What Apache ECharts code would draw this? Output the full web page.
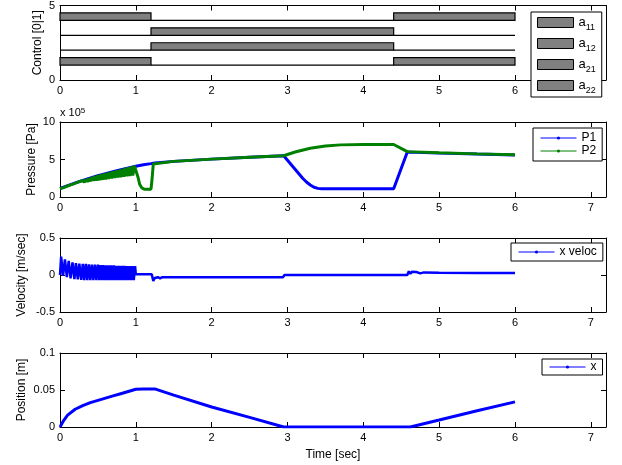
<!DOCTYPE html>
<html><head><meta charset="utf-8">
<script src="https://cdn.jsdelivr.net/npm/echarts@6/dist/echarts.min.js"></script>
<style>html,body{margin:0;padding:0;background:#fff}#c{width:622px;height:465px}</style>
</head><body><div id="c"></div><script>
// ---------- data ----------
const xTickValues = [0, 1, 2, 3, 4, 5, 6, 7];
const switchTimes = [0, 1.2, 4.4, 6];
const a11 = [1, 0, 1];
const a12 = [0, 1, 0];
const a21 = [0, 1, 0];
const a22 = [1, 0, 1];
const controlNames = ['a11', 'a12', 'a21', 'a22'];
const controlSignals = [a11, a12, a21, a22];
const controlBases = [4, 3, 2, 1];

// pressure in units of 1e5 Pa
const p1 = [[0,1.15],[0.25,2.05],[0.5,2.85],[0.75,3.5],[1.0,4.1],[1.1,4.3],[1.2,4.45],[1.25,4.55],[1.5,4.75],[2.0,5.05],[2.5,5.3],[2.95,5.5],[3.0,4.9],[3.05,4.3],[3.1,3.7],[3.15,3.1],[3.2,2.5],[3.25,2.0],[3.3,1.6],[3.35,1.3],[3.4,1.15],[3.45,1.1],[4.4,1.1],[4.58,6.0],[4.7,5.95],[5.0,5.85],[5.5,5.72],[6.0,5.6]];
const p2 = [[0,1.1],[0.05,1.25],[0.1,1.47],[0.12,1.42],[0.14,1.61],[0.16,1.52],[0.18,1.75],[0.2,1.62],[0.22,1.91],[0.24,1.74],[0.26,2.06],[0.28,1.85],[0.3,2.21],[0.32,1.94],[0.34,2.36],[0.36,2.02],[0.38,2.5],[0.4,2.09],[0.42,2.65],[0.44,2.16],[0.46,2.78],[0.48,2.19],[0.5,2.9],[0.52,2.24],[0.54,3.01],[0.56,2.3],[0.58,3.11],[0.6,2.36],[0.62,3.21],[0.64,2.42],[0.66,3.31],[0.68,2.49],[0.7,3.43],[0.72,2.54],[0.74,3.53],[0.76,2.6],[0.78,3.64],[0.8,2.65],[0.82,3.74],[0.84,2.7],[0.86,3.85],[0.88,2.76],[0.9,3.95],[0.92,2.81],[0.94,4.06],[0.96,2.87],[0.98,4.16],[1.0,4.2],[1.03,2.6],[1.05,1.7],[1.08,1.2],[1.11,1.05],[1.2,1.05],[1.215,2.5],[1.23,4.4],[1.25,4.55],[1.5,4.75],[2.0,5.05],[2.5,5.3],[2.95,5.5],[3.1,6.0],[3.3,6.5],[3.5,6.8],[3.7,6.95],[4.0,7.0],[4.4,7.0],[4.58,6.05],[5.0,5.9],[5.5,5.75],[6.0,5.62]];

const xVeloc = [[0,0],[0.015,0.25],[0.04,-0.01],[0.065,0.21],[0.09,-0.03],[0.115,0.19],[0.14,-0.045],[0.165,0.17],[0.19,-0.055],[0.21,0.16],[0.235,-0.06],[0.255,0.155],[0.28,-0.065],[0.3,0.15],[0.32,-0.07],[0.34,0.15],[0.36,-0.07],[0.38,0.145],[0.4,-0.07],[0.42,0.14],[0.44,-0.07],[0.46,0.14],[0.48,-0.07],[0.5,0.14],[0.518,-0.07],[0.535,0.135],[0.553,-0.07],[0.57,0.135],[0.588,-0.07],[0.605,0.13],[0.623,-0.07],[0.64,0.13],[0.658,-0.07],[0.675,0.13],[0.693,-0.07],[0.71,0.13],[0.728,-0.07],[0.745,0.125],[0.763,-0.07],[0.78,0.125],[0.798,-0.07],[0.815,0.125],[0.833,-0.07],[0.85,0.125],[0.868,-0.07],[0.885,0.12],[0.903,-0.07],[0.92,0.12],[0.938,-0.07],[0.955,0.12],[0.973,-0.07],[0.99,0.12],[1.0,0.01],[1.21,0.01],[1.23,-0.08],[1.25,-0.04],[1.27,-0.06],[1.29,-0.03],[1.32,-0.045],[1.35,-0.03],[2.0,-0.03],[2.94,-0.03],[2.96,0.0],[4.58,0.0],[4.6,0.05],[4.62,0.015],[4.64,0.045],[4.66,0.02],[4.7,0.04],[4.75,0.022],[4.8,0.035],[5.0,0.03],[5.5,0.028],[6.0,0.027]];

const xPos = [[0,0],[0.05,0.009],[0.1,0.016],[0.2,0.024],[0.3,0.029],[0.4,0.033],[0.5,0.036],[0.6,0.039],[0.7,0.042],[0.8,0.045],[0.9,0.048],[1.0,0.051],[1.1,0.0515],[1.25,0.0515],[1.5,0.043],[2.0,0.027],[2.5,0.013],[2.95,0],[4.62,0],[5.0,0.0094],[5.5,0.022],[6.0,0.034]];

// ---------- layout ----------
const FONT = "'Liberation Sans', Arial, Helvetica, sans-serif";
const grids = [
  {left: 60, width: 546, top: 5, height: 75},
  {left: 60, width: 546, top: 122, height: 75},
  {left: 60, width: 546, top: 238, height: 74},
  {left: 60, width: 546, top: 353, height: 74}
];
const yCfg = [
  {min: 0, max: 5, interval: 5, name: 'Control [0|1]', gap: 16},
  {min: 0, max: 10, interval: 5, name: 'Pressure [Pa]', gap: 22.5},
  {min: -0.5, max: 0.5, interval: 0.5, name: 'Velocity [m/sec]', gap: 32},
  {min: 0, max: 0.1, interval: 0.05, name: 'Position [m]', gap: 32}
];
const line = {show: true, onZero: false, lineStyle: {color: '#000', width: 1}};
const tick = {show: true, inside: true, length: 5, lineStyle: {color: '#000', width: 1}};
const xAxes = [], yAxes = [];
grids.forEach((g, i) => {
  xAxes.push({
    type: 'value', gridIndex: i, min: 0, max: 7.2, position: 'bottom',
    axisLine: line, axisTick: Object.assign({customValues: xTickValues}, tick),
    axisLabel: {customValues: xTickValues, color: '#000', fontSize: 11, fontFamily: FONT, margin: 5},
    splitLine: {show: false},
    name: i === 3 ? 'Time [sec]' : '', nameLocation: 'middle', nameGap: 22, nameMoveOverlap: false,
    nameTextStyle: {color: '#000', fontSize: 12, fontFamily: FONT}
  });
  xAxes.push({
    type: 'value', gridIndex: i, min: 0, max: 7.2, position: 'top',
    axisLine: line, axisTick: Object.assign({customValues: xTickValues}, tick),
    axisLabel: {show: false}, splitLine: {show: false}
  });
  const c = yCfg[i];
  yAxes.push({
    type: 'value', gridIndex: i, min: c.min, max: c.max, interval: c.interval, position: 'left',
    axisLine: line, axisTick: tick,
    axisLabel: {color: '#000', fontSize: 11, fontFamily: FONT, margin: 5},
    splitLine: {show: false},
    name: c.name, nameLocation: 'middle', nameGap: c.gap, nameRotate: 90, nameMoveOverlap: false,
    nameTextStyle: {color: '#000', fontSize: 12, fontFamily: FONT}
  });
  yAxes.push({
    type: 'value', gridIndex: i, min: c.min, max: c.max, interval: c.interval, position: 'right',
    axisLine: line, axisTick: tick, axisLabel: {show: false}, splitLine: {show: false}
  });
});

// ---------- series ----------
const series = [];
controlNames.forEach((nm, k) => {
  const sig = controlSignals[k];
  const base = controlBases[k];
  const data = sig.map((v, j) => [switchTimes[j], switchTimes[j + 1], base, base + 0.5 * v]);
  series.push({
    type: 'custom', name: nm, xAxisIndex: 0, yAxisIndex: 0,
    itemStyle: {color: '#808080', borderColor: '#000', borderWidth: 1},
    encode: {x: [0, 1], y: [2, 3]},
    data: data,
    renderItem: (params, api) => {
      const p0 = api.coord([api.value(0), api.value(2)]);
      const p1c = api.coord([api.value(1), api.value(3)]);
      return {
        type: 'polygon',
        shape: {points: [[p0[0], p0[1]], [p1c[0], p0[1]], [p1c[0], p1c[1]], [p0[0], p1c[1]]]},
        style: {fill: '#808080', stroke: '#000', lineWidth: 1.2}
      };
    }
  });
});
function lineSeries(name, data, color, width, axis) {
  return {
    type: 'line', name: name, data: data, xAxisIndex: axis * 2, yAxisIndex: axis * 2,
    symbol: 'circle', symbolSize: 3, showSymbol: false,
    lineStyle: {color: color, width: width}, itemStyle: {color: color},
    emphasis: {disabled: true}
  };
}
series.push(lineSeries('P1', p1, '#0000ff', 3, 1));
series.push(lineSeries('P2', p2, '#008000', 3, 1));
series.push(lineSeries('x veloc', xVeloc, '#0000ff', 2.5, 2));
series.push(lineSeries('x', xPos, '#0000ff', 3, 3));

const legBase = {
  orient: 'vertical', borderColor: '#000', borderWidth: 1, backgroundColor: '#fff',
  itemWidth: 36, selectedMode: false,
  textStyle: {color: '#000', fontSize: 12, fontFamily: FONT}
};
const legends = [
  Object.assign({}, legBase, {
    data: controlNames, left: 531, top: 12, itemHeight: 10, itemGap: 2, padding: [1, 6, 2, 6],
    icon: 'rect', itemStyle: {color: '#808080', borderColor: '#000', borderWidth: 1},
    formatter: n => '{b|' + n[0] + '}{s|' + n.slice(1) + '}',
    textStyle: {color: '#000', fontFamily: FONT, rich: {
      b: {fontSize: 13, fontFamily: FONT, color: '#000', lineHeight: 20},
      s: {fontSize: 9, fontFamily: FONT, color: '#000', lineHeight: 10, padding: [10, 0, 0, 0]}
    }}
  }),
  Object.assign({}, legBase, {data: ['P1', 'P2'], left: 533, top: 128, itemHeight: 4, itemGap: 1, padding: [4, 6, 4, 7], lineStyle: {width: 1}}),
  Object.assign({}, legBase, {data: ['x veloc'], left: 511, top: 243, itemHeight: 4, padding: [3, 6, 3, 7], lineStyle: {width: 1}}),
  Object.assign({}, legBase, {data: ['x'], left: 542, top: 359, itemHeight: 4, padding: [2, 6, 2, 7], lineStyle: {width: 1}})
];

const chart = echarts.init(document.getElementById('c'), null, {renderer: 'canvas'});
chart.setOption({
  animation: false,
  backgroundColor: '#fff',
  title: {text: 'x 10{sup|5}', left: 60, top: 107, padding: 0, textStyle: {fontSize: 11, fontWeight: 'normal', color: '#000', fontFamily: FONT,
    rich: {sup: {fontSize: 8, color: '#000', fontFamily: FONT, verticalAlign: 'top', lineHeight: 8}}}},
  grid: grids,
  xAxis: xAxes,
  yAxis: yAxes,
  legend: legends,
  series: series
});
</script></body></html>
